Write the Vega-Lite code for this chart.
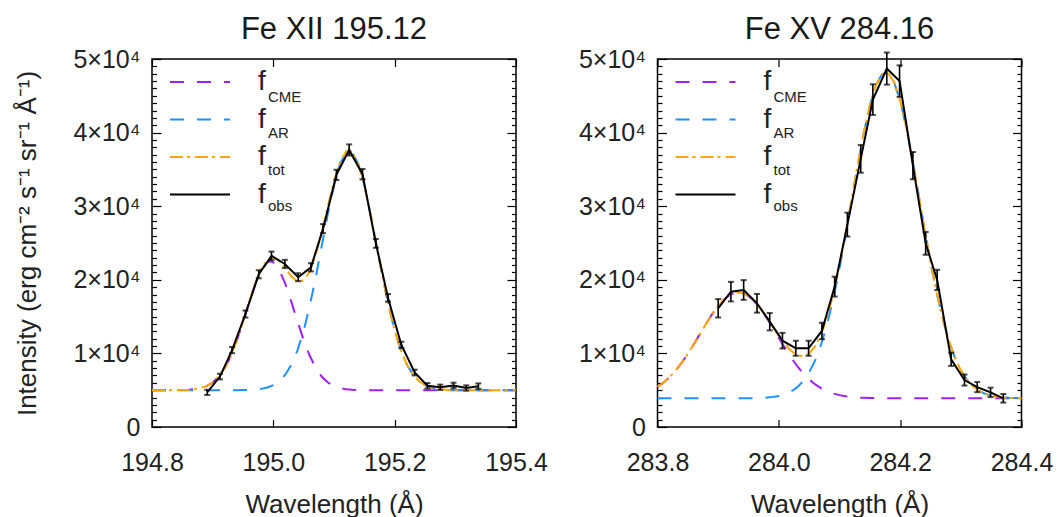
{
  "$schema": "https://vega.github.io/schema/vega-lite/v6.json",
  "background": "white",
  "padding": {"left": 14, "top": 13, "right": 0, "bottom": 0},
  "datasets": {
    "fe12": [
      {"series": "CME", "wl": 194.80, "I": 5000}, {"series": "CME", "wl": 194.84, "I": 5010}, {"series": "CME", "wl": 194.85, "I": 5025},
      {"series": "CME", "wl": 194.86, "I": 5059}, {"series": "CME", "wl": 194.87, "I": 5132}, {"series": "CME", "wl": 194.88, "I": 5281},
      {"series": "CME", "wl": 194.89, "I": 5558}, {"series": "CME", "wl": 194.90, "I": 6043}, {"series": "CME", "wl": 194.91, "I": 6830},
      {"series": "CME", "wl": 194.92, "I": 8017}, {"series": "CME", "wl": 194.93, "I": 9675}, {"series": "CME", "wl": 194.94, "I": 11800},
      {"series": "CME", "wl": 194.95, "I": 14294}, {"series": "CME", "wl": 194.96, "I": 16933}, {"series": "CME", "wl": 194.97, "I": 19399},
      {"series": "CME", "wl": 194.98, "I": 21312}, {"series": "CME", "wl": 194.99, "I": 22364}, {"series": "CME", "wl": 194.995, "I": 22500},
      {"series": "CME", "wl": 195.00, "I": 22364}, {"series": "CME", "wl": 195.01, "I": 21312}, {"series": "CME", "wl": 195.02, "I": 19399},
      {"series": "CME", "wl": 195.03, "I": 16933}, {"series": "CME", "wl": 195.04, "I": 14294}, {"series": "CME", "wl": 195.05, "I": 11800},
      {"series": "CME", "wl": 195.06, "I": 9675}, {"series": "CME", "wl": 195.07, "I": 8017}, {"series": "CME", "wl": 195.08, "I": 6830},
      {"series": "CME", "wl": 195.09, "I": 6043}, {"series": "CME", "wl": 195.10, "I": 5558}, {"series": "CME", "wl": 195.11, "I": 5281},
      {"series": "CME", "wl": 195.12, "I": 5132}, {"series": "CME", "wl": 195.13, "I": 5059}, {"series": "CME", "wl": 195.14, "I": 5025},
      {"series": "CME", "wl": 195.15, "I": 5010}, {"series": "CME", "wl": 195.40, "I": 5000},

      {"series": "AR", "wl": 194.80, "I": 5000}, {"series": "AR", "wl": 194.94, "I": 5007}, {"series": "AR", "wl": 194.95, "I": 5017},
      {"series": "AR", "wl": 194.96, "I": 5039}, {"series": "AR", "wl": 194.97, "I": 5086}, {"series": "AR", "wl": 194.98, "I": 5181},
      {"series": "AR", "wl": 194.99, "I": 5361}, {"series": "AR", "wl": 195.00, "I": 5686}, {"series": "AR", "wl": 195.01, "I": 6241},
      {"series": "AR", "wl": 195.02, "I": 7135}, {"series": "AR", "wl": 195.03, "I": 8500}, {"series": "AR", "wl": 195.04, "I": 10460},
      {"series": "AR", "wl": 195.05, "I": 13106}, {"series": "AR", "wl": 195.06, "I": 16450}, {"series": "AR", "wl": 195.07, "I": 20399},
      {"series": "AR", "wl": 195.08, "I": 24711}, {"series": "AR", "wl": 195.09, "I": 29018}, {"series": "AR", "wl": 195.10, "I": 32853},
      {"series": "AR", "wl": 195.11, "I": 35742}, {"series": "AR", "wl": 195.12, "I": 37300}, {"series": "AR", "wl": 195.125, "I": 37500},
      {"series": "AR", "wl": 195.13, "I": 37300}, {"series": "AR", "wl": 195.14, "I": 35742}, {"series": "AR", "wl": 195.15, "I": 32853},
      {"series": "AR", "wl": 195.16, "I": 29018}, {"series": "AR", "wl": 195.17, "I": 24711}, {"series": "AR", "wl": 195.18, "I": 20399},
      {"series": "AR", "wl": 195.19, "I": 16450}, {"series": "AR", "wl": 195.20, "I": 13106}, {"series": "AR", "wl": 195.21, "I": 10460},
      {"series": "AR", "wl": 195.22, "I": 8500}, {"series": "AR", "wl": 195.23, "I": 7135}, {"series": "AR", "wl": 195.24, "I": 6241},
      {"series": "AR", "wl": 195.25, "I": 5686}, {"series": "AR", "wl": 195.26, "I": 5361}, {"series": "AR", "wl": 195.27, "I": 5181},
      {"series": "AR", "wl": 195.28, "I": 5086}, {"series": "AR", "wl": 195.29, "I": 5039}, {"series": "AR", "wl": 195.30, "I": 5017},
      {"series": "AR", "wl": 195.31, "I": 5007}, {"series": "AR", "wl": 195.40, "I": 5000},

      {"series": "tot", "wl": 194.80, "I": 5000}, {"series": "tot", "wl": 194.84, "I": 5010}, {"series": "tot", "wl": 194.85, "I": 5025},
      {"series": "tot", "wl": 194.86, "I": 5059}, {"series": "tot", "wl": 194.87, "I": 5132}, {"series": "tot", "wl": 194.88, "I": 5281},
      {"series": "tot", "wl": 194.89, "I": 5558}, {"series": "tot", "wl": 194.90, "I": 6043}, {"series": "tot", "wl": 194.91, "I": 6830},
      {"series": "tot", "wl": 194.92, "I": 8017}, {"series": "tot", "wl": 194.93, "I": 9675}, {"series": "tot", "wl": 194.94, "I": 11807},
      {"series": "tot", "wl": 194.95, "I": 14311}, {"series": "tot", "wl": 194.96, "I": 16972}, {"series": "tot", "wl": 194.97, "I": 19485},
      {"series": "tot", "wl": 194.98, "I": 21493}, {"series": "tot", "wl": 194.99, "I": 22725}, {"series": "tot", "wl": 195.00, "I": 23050},
      {"series": "tot", "wl": 195.01, "I": 22553}, {"series": "tot", "wl": 195.02, "I": 21534}, {"series": "tot", "wl": 195.03, "I": 20433},
      {"series": "tot", "wl": 195.04, "I": 19754}, {"series": "tot", "wl": 195.05, "I": 19906}, {"series": "tot", "wl": 195.06, "I": 21125},
      {"series": "tot", "wl": 195.07, "I": 23416}, {"series": "tot", "wl": 195.08, "I": 26541}, {"series": "tot", "wl": 195.09, "I": 30061},
      {"series": "tot", "wl": 195.10, "I": 33411}, {"series": "tot", "wl": 195.11, "I": 36023}, {"series": "tot", "wl": 195.12, "I": 37432},
      {"series": "tot", "wl": 195.125, "I": 37560}, {"series": "tot", "wl": 195.13, "I": 37359}, {"series": "tot", "wl": 195.14, "I": 35767},
      {"series": "tot", "wl": 195.15, "I": 32863}, {"series": "tot", "wl": 195.16, "I": 29018}, {"series": "tot", "wl": 195.17, "I": 24711},
      {"series": "tot", "wl": 195.18, "I": 20399}, {"series": "tot", "wl": 195.19, "I": 16450}, {"series": "tot", "wl": 195.20, "I": 13106},
      {"series": "tot", "wl": 195.21, "I": 10460}, {"series": "tot", "wl": 195.22, "I": 8500}, {"series": "tot", "wl": 195.23, "I": 7135},
      {"series": "tot", "wl": 195.24, "I": 6241}, {"series": "tot", "wl": 195.25, "I": 5686}, {"series": "tot", "wl": 195.26, "I": 5361},
      {"series": "tot", "wl": 195.27, "I": 5181}, {"series": "tot", "wl": 195.28, "I": 5086}, {"series": "tot", "wl": 195.29, "I": 5039},
      {"series": "tot", "wl": 195.30, "I": 5017}, {"series": "tot", "wl": 195.31, "I": 5007}, {"series": "tot", "wl": 195.40, "I": 5000},

      {"series": "obs", "wl": 194.891, "I": 4700, "err": 350}, {"series": "obs", "wl": 194.912, "I": 6850, "err": 380},
      {"series": "obs", "wl": 194.932, "I": 10450, "err": 420}, {"series": "obs", "wl": 194.954, "I": 15350, "err": 480},
      {"series": "obs", "wl": 194.976, "I": 20750, "err": 550}, {"series": "obs", "wl": 194.997, "I": 23250, "err": 580},
      {"series": "obs", "wl": 195.019, "I": 22150, "err": 560}, {"series": "obs", "wl": 195.041, "I": 20350, "err": 540},
      {"series": "obs", "wl": 195.062, "I": 21700, "err": 560}, {"series": "obs", "wl": 195.082, "I": 26950, "err": 620},
      {"series": "obs", "wl": 195.104, "I": 34250, "err": 700}, {"series": "obs", "wl": 195.125, "I": 37650, "err": 750},
      {"series": "obs", "wl": 195.147, "I": 34350, "err": 700}, {"series": "obs", "wl": 195.169, "I": 24950, "err": 600},
      {"series": "obs", "wl": 195.189, "I": 17550, "err": 520}, {"series": "obs", "wl": 195.211, "I": 11150, "err": 430},
      {"series": "obs", "wl": 195.233, "I": 7400, "err": 390}, {"series": "obs", "wl": 195.254, "I": 5600, "err": 370},
      {"series": "obs", "wl": 195.275, "I": 5400, "err": 360}, {"series": "obs", "wl": 195.297, "I": 5650, "err": 370},
      {"series": "obs", "wl": 195.318, "I": 5300, "err": 360}, {"series": "obs", "wl": 195.338, "I": 5550, "err": 370}
    ],
    "fe15": [
      {"series": "CME", "wl": 283.80, "I": 5451}, {"series": "CME", "wl": 283.81, "I": 6041}, {"series": "CME", "wl": 283.82, "I": 6782},
      {"series": "CME", "wl": 283.83, "I": 7684}, {"series": "CME", "wl": 283.84, "I": 8744}, {"series": "CME", "wl": 283.85, "I": 9947},
      {"series": "CME", "wl": 283.86, "I": 11258}, {"series": "CME", "wl": 283.87, "I": 12634}, {"series": "CME", "wl": 283.88, "I": 14009},
      {"series": "CME", "wl": 283.89, "I": 15308}, {"series": "CME", "wl": 283.90, "I": 16454}, {"series": "CME", "wl": 283.91, "I": 17371},
      {"series": "CME", "wl": 283.92, "I": 17996}, {"series": "CME", "wl": 283.93, "I": 18284}, {"series": "CME", "wl": 283.94, "I": 18211},
      {"series": "CME", "wl": 283.95, "I": 17784}, {"series": "CME", "wl": 283.96, "I": 17037}, {"series": "CME", "wl": 283.97, "I": 16019},
      {"series": "CME", "wl": 283.98, "I": 14802}, {"series": "CME", "wl": 283.99, "I": 13463}, {"series": "CME", "wl": 284.00, "I": 12081},
      {"series": "CME", "wl": 284.01, "I": 10723}, {"series": "CME", "wl": 284.02, "I": 9450}, {"series": "CME", "wl": 284.03, "I": 8302},
      {"series": "CME", "wl": 284.04, "I": 7304}, {"series": "CME", "wl": 284.05, "I": 6467}, {"series": "CME", "wl": 284.06, "I": 5788},
      {"series": "CME", "wl": 284.07, "I": 5254}, {"series": "CME", "wl": 284.08, "I": 4846}, {"series": "CME", "wl": 284.09, "I": 4545},
      {"series": "CME", "wl": 284.10, "I": 4329}, {"series": "CME", "wl": 284.11, "I": 4178}, {"series": "CME", "wl": 284.12, "I": 4076},
      {"series": "CME", "wl": 284.13, "I": 4008}, {"series": "CME", "wl": 284.14, "I": 3965}, {"series": "CME", "wl": 284.15, "I": 3938},
      {"series": "CME", "wl": 284.16, "I": 3922}, {"series": "CME", "wl": 284.17, "I": 3912}, {"series": "CME", "wl": 284.18, "I": 3906},
      {"series": "CME", "wl": 284.20, "I": 3901}, {"series": "CME", "wl": 284.40, "I": 3900},

      {"series": "AR", "wl": 283.80, "I": 3900}, {"series": "AR", "wl": 283.94, "I": 3904}, {"series": "AR", "wl": 283.95, "I": 3913},
      {"series": "AR", "wl": 283.96, "I": 3926}, {"series": "AR", "wl": 283.97, "I": 3951}, {"series": "AR", "wl": 283.98, "I": 3997},
      {"series": "AR", "wl": 283.99, "I": 4078}, {"series": "AR", "wl": 284.00, "I": 4217}, {"series": "AR", "wl": 284.01, "I": 4447},
      {"series": "AR", "wl": 284.02, "I": 4815}, {"series": "AR", "wl": 284.03, "I": 5381}, {"series": "AR", "wl": 284.04, "I": 6220},
      {"series": "AR", "wl": 284.05, "I": 7425}, {"series": "AR", "wl": 284.06, "I": 9083}, {"series": "AR", "wl": 284.07, "I": 11285},
      {"series": "AR", "wl": 284.08, "I": 14093}, {"series": "AR", "wl": 284.09, "I": 17522}, {"series": "AR", "wl": 284.10, "I": 21540},
      {"series": "AR", "wl": 284.11, "I": 26019}, {"series": "AR", "wl": 284.12, "I": 30768}, {"series": "AR", "wl": 284.13, "I": 35517},
      {"series": "AR", "wl": 284.14, "I": 39929}, {"series": "AR", "wl": 284.15, "I": 43673}, {"series": "AR", "wl": 284.16, "I": 46428},
      {"series": "AR", "wl": 284.17, "I": 47947}, {"series": "AR", "wl": 284.18, "I": 48087}, {"series": "AR", "wl": 284.19, "I": 46836},
      {"series": "AR", "wl": 284.20, "I": 44315}, {"series": "AR", "wl": 284.21, "I": 40744}, {"series": "AR", "wl": 284.22, "I": 36434},
      {"series": "AR", "wl": 284.23, "I": 31729}, {"series": "AR", "wl": 284.24, "I": 26954}, {"series": "AR", "wl": 284.25, "I": 22404},
      {"series": "AR", "wl": 284.26, "I": 18284}, {"series": "AR", "wl": 284.27, "I": 14727}, {"series": "AR", "wl": 284.28, "I": 11799},
      {"series": "AR", "wl": 284.29, "I": 9477}, {"series": "AR", "wl": 284.30, "I": 7719}, {"series": "AR", "wl": 284.31, "I": 6430},
      {"series": "AR", "wl": 284.32, "I": 5526}, {"series": "AR", "wl": 284.33, "I": 4910}, {"series": "AR", "wl": 284.34, "I": 4507},
      {"series": "AR", "wl": 284.35, "I": 4254}, {"series": "AR", "wl": 284.36, "I": 4101}, {"series": "AR", "wl": 284.37, "I": 4010},
      {"series": "AR", "wl": 284.38, "I": 3958}, {"series": "AR", "wl": 284.39, "I": 3930}, {"series": "AR", "wl": 284.40, "I": 3915},

      {"series": "tot", "wl": 283.80, "I": 5451}, {"series": "tot", "wl": 283.81, "I": 6041}, {"series": "tot", "wl": 283.82, "I": 6782},
      {"series": "tot", "wl": 283.83, "I": 7684}, {"series": "tot", "wl": 283.84, "I": 8744}, {"series": "tot", "wl": 283.85, "I": 9947},
      {"series": "tot", "wl": 283.86, "I": 11258}, {"series": "tot", "wl": 283.87, "I": 12634}, {"series": "tot", "wl": 283.88, "I": 14009},
      {"series": "tot", "wl": 283.89, "I": 15308}, {"series": "tot", "wl": 283.90, "I": 16454}, {"series": "tot", "wl": 283.91, "I": 17371},
      {"series": "tot", "wl": 283.92, "I": 17996}, {"series": "tot", "wl": 283.93, "I": 18284}, {"series": "tot", "wl": 283.94, "I": 18215},
      {"series": "tot", "wl": 283.95, "I": 17797}, {"series": "tot", "wl": 283.96, "I": 17063}, {"series": "tot", "wl": 283.97, "I": 16070},
      {"series": "tot", "wl": 283.98, "I": 14899}, {"series": "tot", "wl": 283.99, "I": 13641}, {"series": "tot", "wl": 284.00, "I": 12398},
      {"series": "tot", "wl": 284.01, "I": 11270}, {"series": "tot", "wl": 284.02, "I": 10365}, {"series": "tot", "wl": 284.03, "I": 9783},
      {"series": "tot", "wl": 284.04, "I": 9624}, {"series": "tot", "wl": 284.05, "I": 9992}, {"series": "tot", "wl": 284.06, "I": 10971},
      {"series": "tot", "wl": 284.07, "I": 12639}, {"series": "tot", "wl": 284.08, "I": 15039}, {"series": "tot", "wl": 284.09, "I": 18167},
      {"series": "tot", "wl": 284.10, "I": 21969}, {"series": "tot", "wl": 284.11, "I": 26297}, {"series": "tot", "wl": 284.12, "I": 30944},
      {"series": "tot", "wl": 284.13, "I": 35625}, {"series": "tot", "wl": 284.14, "I": 39994}, {"series": "tot", "wl": 284.15, "I": 43711},
      {"series": "tot", "wl": 284.16, "I": 46450}, {"series": "tot", "wl": 284.17, "I": 47959}, {"series": "tot", "wl": 284.18, "I": 48093},
      {"series": "tot", "wl": 284.19, "I": 46837}, {"series": "tot", "wl": 284.20, "I": 44316}, {"series": "tot", "wl": 284.21, "I": 40744},
      {"series": "tot", "wl": 284.22, "I": 36434}, {"series": "tot", "wl": 284.23, "I": 31729}, {"series": "tot", "wl": 284.24, "I": 26954},
      {"series": "tot", "wl": 284.25, "I": 22404}, {"series": "tot", "wl": 284.26, "I": 18284}, {"series": "tot", "wl": 284.27, "I": 14727},
      {"series": "tot", "wl": 284.28, "I": 11799}, {"series": "tot", "wl": 284.29, "I": 9477}, {"series": "tot", "wl": 284.30, "I": 7719},
      {"series": "tot", "wl": 284.31, "I": 6430}, {"series": "tot", "wl": 284.32, "I": 5526}, {"series": "tot", "wl": 284.33, "I": 4910},
      {"series": "tot", "wl": 284.34, "I": 4507}, {"series": "tot", "wl": 284.35, "I": 4254}, {"series": "tot", "wl": 284.36, "I": 4101},
      {"series": "tot", "wl": 284.37, "I": 4010}, {"series": "tot", "wl": 284.38, "I": 3958}, {"series": "tot", "wl": 284.39, "I": 3930},
      {"series": "tot", "wl": 284.40, "I": 3915},

      {"series": "obs", "wl": 283.900, "I": 16130, "err": 1250}, {"series": "obs", "wl": 283.921, "I": 18390, "err": 1330},
      {"series": "obs", "wl": 283.942, "I": 18620, "err": 1340}, {"series": "obs", "wl": 283.964, "I": 16810, "err": 1270},
      {"series": "obs", "wl": 283.985, "I": 14310, "err": 1180}, {"series": "obs", "wl": 284.006, "I": 11730, "err": 1060},
      {"series": "obs", "wl": 284.028, "I": 10700, "err": 1020}, {"series": "obs", "wl": 284.049, "I": 10700, "err": 1020},
      {"series": "obs", "wl": 284.071, "I": 13050, "err": 1120}, {"series": "obs", "wl": 284.092, "I": 19070, "err": 1350},
      {"series": "obs", "wl": 284.113, "I": 27500, "err": 1620}, {"series": "obs", "wl": 284.135, "I": 36430, "err": 1880},
      {"series": "obs", "wl": 284.155, "I": 44480, "err": 2080}, {"series": "obs", "wl": 284.178, "I": 48700, "err": 2180},
      {"series": "obs", "wl": 284.199, "I": 47000, "err": 2140}, {"series": "obs", "wl": 284.221, "I": 35510, "err": 1850},
      {"series": "obs", "wl": 284.242, "I": 24950, "err": 1550}, {"series": "obs", "wl": 284.261, "I": 19980, "err": 1380},
      {"series": "obs", "wl": 284.284, "I": 9200, "err": 900}, {"series": "obs", "wl": 284.306, "I": 6380, "err": 750},
      {"series": "obs", "wl": 284.327, "I": 5420, "err": 690}, {"series": "obs", "wl": 284.349, "I": 4700, "err": 640},
      {"series": "obs", "wl": 284.370, "I": 3900, "err": 580}
    ]
  },
  "hconcat": [
    {
      "width": 364,
      "height": 368,
      "data": {"name": "fe12"},
      "title": {"text": "Fe XII 195.12"},
      "layer": [
        {
          "transform": [{"filter": "datum.series !== 'obs'"}],
          "mark": {"type": "line", "strokeWidth": 2},
          "encoding": {
            "x": {
              "field": "wl", "type": "quantitative",
              "scale": {"domain": [194.8, 195.4], "nice": false, "zero": false},
              "axis": {"orient": "bottom", "values": [194.8, 195.0, 195.2, 195.4], "format": ".1f", "title": "Wavelength (Å)", "ticks": false}
            },
            "y": {
              "field": "I", "type": "quantitative",
              "scale": {"domain": [0, 50000], "nice": false},
              "axis": {
                "orient": "left", "ticks": false,
                "title": "Intensity (erg cm⁻² s⁻¹ sr⁻¹ Å⁻¹)",
                "values": [0, 10000, 20000, 30000, 40000, 50000],
                "labelExpr": "datum.value === 0 ? '0' : (datum.value / 10000) + '×10⁴'"
              }
            },
            "color": {
              "field": "series", "type": "nominal",
              "scale": {"domain": ["CME", "AR", "tot", "obs"], "range": ["#A020F0", "#1E90FF", "#FFA500", "#000000"]},
              "legend": {"orient": "none", "legendX": 34, "legendY": 9, "labelExpr": "'f'", "labelFontSize": 28, "labelOffset": 44, "rowPadding": 9.5, "symbolSize": 576, "symbolStrokeWidth": 2, "symbolType": "M-2.5,0L2.5,0"}
            },
            "strokeDash": {
              "field": "series", "type": "nominal",
              "scale": {"domain": ["CME", "AR", "tot", "obs"], "range": [[14, 13], [14, 13], [13, 4, 3, 5], [1, 0]]},
              "legend": {"orient": "none", "legendX": 34, "legendY": 9, "labelExpr": "'f'", "labelFontSize": 28, "labelOffset": 44, "rowPadding": 9.5, "symbolSize": 576, "symbolStrokeWidth": 2, "symbolType": "M-2.5,0L2.5,0"}
            },
            "opacity": {
              "field": "series", "type": "nominal",
              "scale": {"domain": ["obs", "tot", "AR", "CME"], "range": [1, 1, 1, 1]},
              "legend": {"orient": "none", "legendX": 101, "legendY": 30, "values": ["CME", "AR", "tot", "obs"], "labelFontSize": 15, "labelOffset": 0, "rowPadding": 20.5, "symbolSize": 0, "symbolOpacity": 0, "symbolStrokeWidth": 0}
            }
          }
        },
        {
          "transform": [{"filter": "datum.series === 'obs'"}],
          "mark": {"type": "line", "color": "#000", "strokeWidth": 2},
          "encoding": {
            "x": {
              "field": "wl", "type": "quantitative",
              "axis": {"orient": "bottom", "offset": -368, "values": [194.8, 195.0, 195.2, 195.4], "labels": false, "title": null, "tickSize": 7.5}
            },
            "y": {
              "field": "I", "type": "quantitative",
              "axis": {
                "orient": "left", "offset": -364, "labels": false, "title": null,
                "values": [0, 1000, 2000, 3000, 4000, 5000, 6000, 7000, 8000, 9000, 10000, 11000, 12000, 13000, 14000, 15000, 16000, 17000, 18000, 19000, 20000, 21000, 22000, 23000, 24000, 25000, 26000, 27000, 28000, 29000, 30000, 31000, 32000, 33000, 34000, 35000, 36000, 37000, 38000, 39000, 40000, 41000, 42000, 43000, 44000, 45000, 46000, 47000, 48000, 49000, 50000],
                "tickSize": {"condition": {"test": "datum.value % 10000 === 0", "value": 9}, "value": 4.5}
              }
            }
          }
        },
        {
          "transform": [{"filter": "datum.series === 'obs'"}],
          "mark": {"type": "errorbar", "ticks": {"size": 6, "thickness": 2}, "color": "#000", "thickness": 1.6},
          "encoding": {
            "x": {
              "field": "wl", "type": "quantitative",
              "axis": {"orient": "top", "offset": -368, "values": [194.8, 195.0, 195.2, 195.4], "labels": false, "title": null, "tickSize": 7.5}
            },
            "y": {
              "field": "I", "type": "quantitative",
              "axis": {
                "orient": "right", "offset": -364, "labels": false, "title": null,
                "values": [0, 1000, 2000, 3000, 4000, 5000, 6000, 7000, 8000, 9000, 10000, 11000, 12000, 13000, 14000, 15000, 16000, 17000, 18000, 19000, 20000, 21000, 22000, 23000, 24000, 25000, 26000, 27000, 28000, 29000, 30000, 31000, 32000, 33000, 34000, 35000, 36000, 37000, 38000, 39000, 40000, 41000, 42000, 43000, 44000, 45000, 46000, 47000, 48000, 49000, 50000],
                "tickSize": {"condition": {"test": "datum.value % 10000 === 0", "value": 9}, "value": 4.5}
              }
            },
            "yError": {"field": "err"}
          }
        }
      ],
      "resolve": {"axis": {"x": "independent", "y": "independent"}}
    },
    {
      "width": 364,
      "height": 368,
      "data": {"name": "fe15"},
      "title": {"text": "Fe XV 284.16"},
      "layer": [
        {
          "transform": [{"filter": "datum.series !== 'obs'"}],
          "mark": {"type": "line", "strokeWidth": 2},
          "encoding": {
            "x": {
              "field": "wl", "type": "quantitative",
              "scale": {"domain": [283.8, 284.4], "nice": false, "zero": false},
              "axis": {"orient": "bottom", "values": [283.8, 284.0, 284.2, 284.4], "format": ".1f", "title": "Wavelength (Å)", "ticks": false}
            },
            "y": {
              "field": "I", "type": "quantitative",
              "scale": {"domain": [0, 50000], "nice": false},
              "axis": {
                "orient": "left", "ticks": false, "title": null,
                "values": [0, 10000, 20000, 30000, 40000, 50000],
                "labelExpr": "datum.value === 0 ? '0' : (datum.value / 10000) + '×10⁴'"
              }
            },
            "color": {
              "field": "series", "type": "nominal",
              "scale": {"domain": ["CME", "AR", "tot", "obs"], "range": ["#A020F0", "#1E90FF", "#FFA500", "#000000"]},
              "legend": {"orient": "none", "legendX": 34, "legendY": 9, "labelExpr": "'f'", "labelFontSize": 28, "labelOffset": 44, "rowPadding": 9.5, "symbolSize": 576, "symbolStrokeWidth": 2, "symbolType": "M-2.5,0L2.5,0"}
            },
            "strokeDash": {
              "field": "series", "type": "nominal",
              "scale": {"domain": ["CME", "AR", "tot", "obs"], "range": [[14, 13], [14, 13], [13, 4, 3, 5], [1, 0]]},
              "legend": {"orient": "none", "legendX": 34, "legendY": 9, "labelExpr": "'f'", "labelFontSize": 28, "labelOffset": 44, "rowPadding": 9.5, "symbolSize": 576, "symbolStrokeWidth": 2, "symbolType": "M-2.5,0L2.5,0"}
            },
            "opacity": {
              "field": "series", "type": "nominal",
              "scale": {"domain": ["obs", "tot", "AR", "CME"], "range": [1, 1, 1, 1]},
              "legend": {"orient": "none", "legendX": 101, "legendY": 30, "values": ["CME", "AR", "tot", "obs"], "labelFontSize": 15, "labelOffset": 0, "rowPadding": 20.5, "symbolSize": 0, "symbolOpacity": 0, "symbolStrokeWidth": 0}
            }
          }
        },
        {
          "transform": [{"filter": "datum.series === 'obs'"}],
          "mark": {"type": "line", "color": "#000", "strokeWidth": 2},
          "encoding": {
            "x": {
              "field": "wl", "type": "quantitative",
              "axis": {"orient": "bottom", "offset": -368, "values": [283.8, 284.0, 284.2, 284.4], "labels": false, "title": null, "tickSize": 7.5}
            },
            "y": {
              "field": "I", "type": "quantitative",
              "axis": {
                "orient": "left", "offset": -364, "labels": false, "title": null,
                "values": [0, 1000, 2000, 3000, 4000, 5000, 6000, 7000, 8000, 9000, 10000, 11000, 12000, 13000, 14000, 15000, 16000, 17000, 18000, 19000, 20000, 21000, 22000, 23000, 24000, 25000, 26000, 27000, 28000, 29000, 30000, 31000, 32000, 33000, 34000, 35000, 36000, 37000, 38000, 39000, 40000, 41000, 42000, 43000, 44000, 45000, 46000, 47000, 48000, 49000, 50000],
                "tickSize": {"condition": {"test": "datum.value % 10000 === 0", "value": 9}, "value": 4.5}
              }
            }
          }
        },
        {
          "transform": [{"filter": "datum.series === 'obs'"}],
          "mark": {"type": "errorbar", "ticks": {"size": 6, "thickness": 2}, "color": "#000", "thickness": 1.6},
          "encoding": {
            "x": {
              "field": "wl", "type": "quantitative",
              "axis": {"orient": "top", "offset": -368, "values": [283.8, 284.0, 284.2, 284.4], "labels": false, "title": null, "tickSize": 7.5}
            },
            "y": {
              "field": "I", "type": "quantitative",
              "axis": {
                "orient": "right", "offset": -364, "labels": false, "title": null,
                "values": [0, 1000, 2000, 3000, 4000, 5000, 6000, 7000, 8000, 9000, 10000, 11000, 12000, 13000, 14000, 15000, 16000, 17000, 18000, 19000, 20000, 21000, 22000, 23000, 24000, 25000, 26000, 27000, 28000, 29000, 30000, 31000, 32000, 33000, 34000, 35000, 36000, 37000, 38000, 39000, 40000, 41000, 42000, 43000, 44000, 45000, 46000, 47000, 48000, 49000, 50000],
                "tickSize": {"condition": {"test": "datum.value % 10000 === 0", "value": 9}, "value": 4.5}
              }
            },
            "yError": {"field": "err"}
          }
        }
      ],
      "resolve": {"axis": {"x": "independent", "y": "independent"}}
    }
  ],
  "spacing": 141.5,
  "bounds": "flush",
  "resolve": {
    "scale": {"color": "independent", "strokeDash": "independent", "opacity": "independent"},
    "legend": {"color": "independent", "strokeDash": "independent", "opacity": "independent"}
  },
  "config": {
    "font": "Liberation Sans",
    "view": {"stroke": "#000", "strokeWidth": 1.5},
    "title": {"fontSize": 31, "fontWeight": "normal", "color": "#1a1a1a", "anchor": "middle", "frame": "group", "offset": 1},
    "axis": {
      "domain": false, "grid": false,
      "tickColor": "#000", "tickWidth": 1.2,
      "labelFontSize": 25, "labelColor": "#222", "labelPadding": 12,
      "labelFlush": false, "labelOverlap": false, "labelBound": false,
      "titleFontSize": 25, "titleFontWeight": "normal", "titleColor": "#222"
    },
    "axisBottom": {"labelPadding": 23, "titlePadding": 16, "titleFontSize": 26},
    "axisLeft": {"titlePadding": 32, "titleFontSize": 26},
    "legend": {"title": null, "padding": 0, "labelColor": "#222", "symbolOffset": 0}
  }
}
